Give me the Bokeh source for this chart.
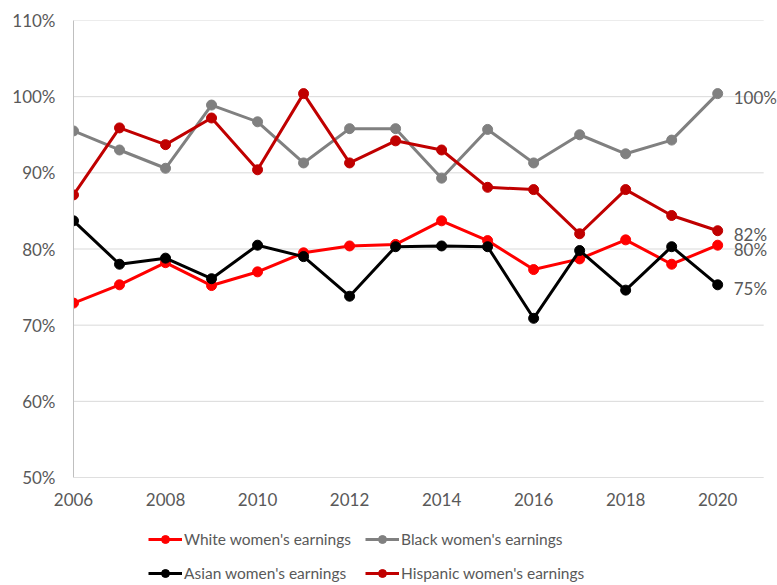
from bokeh.plotting import figure
from bokeh.layouts import column
from bokeh.models import ColumnDataSource, Range1d, FixedTicker, PrintfTickFormatter, Legend, LegendItem
from bokeh.embed import file_html
from bokeh.resources import INLINE
from bokeh.core.properties import value

years = list(range(2006, 2021))
white = [72.9, 75.3, 78.2, 75.2, 77.0, 79.5, 80.4, 80.6, 83.7, 81.1, 77.3, 78.7, 81.2, 78.0, 80.5]
black = [95.5, 93.0, 90.6, 98.9, 96.7, 91.3, 95.8, 95.8, 89.3, 95.7, 91.3, 95.0, 92.5, 94.3, 100.4]
asian = [83.7, 78.0, 78.8, 76.1, 80.5, 79.0, 73.8, 80.3, 80.4, 80.3, 70.9, 79.8, 74.6, 80.3, 75.3]
hispanic = [87.1, 95.9, 93.7, 97.2, 90.4, 100.4, 91.3, 94.2, 93.0, 88.1, 87.8, 82.0, 87.8, 84.4, 82.4]

series_names = ["White women's earnings", "Black women's earnings",
                "Asian women's earnings", "Hispanic women's earnings"]
series_values = [white, black, asian, hispanic]
series_colors = ["#FF0000", "#808080", "#000000", "#C00000"]
end_labels = ["80%", "100%", "75%", "82%"]
legend_order = [0, 2, 1, 3]  # legend fills column by column

x_ticks = list(range(2006, 2021, 2))
y_ticks = list(range(50, 111, 10))
x_min, x_grid_end, x_view_end = 2006, 2021, 2021.3

FONT = "Lato"
TXT = "#595959"

p = figure(width=777, height=530, output_backend="svg", toolbar_location=None,
           x_range=Range1d(x_min, x_view_end), y_range=Range1d(50, 110),
           min_border_left=73, min_border_right=0, min_border_top=20, min_border_bottom=53)
p.outline_line_color = None
p.background_fill_color = "white"
p.border_fill_color = "white"

p.xaxis.ticker = FixedTicker(ticks=x_ticks)
p.yaxis.ticker = FixedTicker(ticks=y_ticks)
p.yaxis.formatter = PrintfTickFormatter(format="%d%%")
for ax in (p.xaxis[0], p.yaxis[0]):
    ax.major_tick_line_color = None
    ax.minor_tick_line_color = None
    ax.major_tick_out = 0
    ax.major_tick_in = 0
    ax.minor_tick_out = 0
    ax.minor_tick_in = 0
    ax.axis_line_color = "#BFBFBF"
    ax.axis_line_width = 1
    ax.major_label_text_font = FONT
    ax.major_label_text_font_size = "17px"
    ax.major_label_text_color = TXT
p.xaxis.axis_line_color = None
p.xaxis.major_label_standoff = 15
p.yaxis.major_label_standoff = 18
p.xgrid.grid_line_color = None
p.ygrid.grid_line_color = None

# horizontal gridlines (stop short of the label area, like the original)
grid_src = ColumnDataSource(dict(x0=[x_min] * len(y_ticks), x1=[x_grid_end] * len(y_ticks),
                                 y=y_ticks,
                                 c=["#BFBFBF" if t == y_ticks[0] else "#D9D9D9" for t in y_ticks]))
p.segment(x0="x0", y0="y", x1="x1", y1="y", line_color="c", line_width=1, source=grid_src)

# legend strip: a second figure whose view excludes the data, so only the legend shows
lg = figure(width=777, height=55, output_backend="svg", toolbar_location=None,
            x_axis_type=None, y_axis_type=None,
            x_range=Range1d(0, 1), y_range=Range1d(0, 1),
            min_border_left=0, min_border_right=0, min_border_top=0, min_border_bottom=0)
lg.outline_line_color = None
lg.xgrid.grid_line_color = None
lg.ygrid.grid_line_color = None

items = []
for name, vals, col in zip(series_names, series_values, series_colors):
    src = ColumnDataSource(dict(x=years, y=vals))
    p.line("x", "y", source=src, line_color=col, line_width=3)
    p.scatter("x", "y", source=src, size=10, fill_color=col, line_color=col)
    l1 = lg.line("x", "y", source=src, line_color=col, line_width=3)
    l2 = lg.scatter("x", "y", source=src, size=10, fill_color=col, line_color=col)
    items.append(LegendItem(label=name, renderers=[l1, l2]))
items = [items[i] for i in legend_order]

lab_src = ColumnDataSource(dict(x=[years[-1]] * 4, y=[v[-1] for v in series_values], t=end_labels))
p.text("x", "y", text="t", source=lab_src, x_offset=16, y_offset=4,
       text_font=value(FONT), text_font_size="17px", text_color=TXT,
       text_baseline="middle", text_align="left")

legend = Legend(items=items, ncols=2, location=(75, 2))
legend.label_text_font = FONT
legend.label_text_font_size = "15.5px"
legend.label_text_color = TXT
legend.glyph_width = 34
legend.glyph_height = 20
legend.label_height = 20
legend.label_standoff = 2
legend.spacing = 14
legend.padding = 0
legend.margin = 0
legend.border_line_color = None
legend.background_fill_alpha = 0
lg.add_layout(legend, "center")

layout = column(p, lg, spacing=0)
open("out.html", "w").write(file_html(layout, INLINE))
